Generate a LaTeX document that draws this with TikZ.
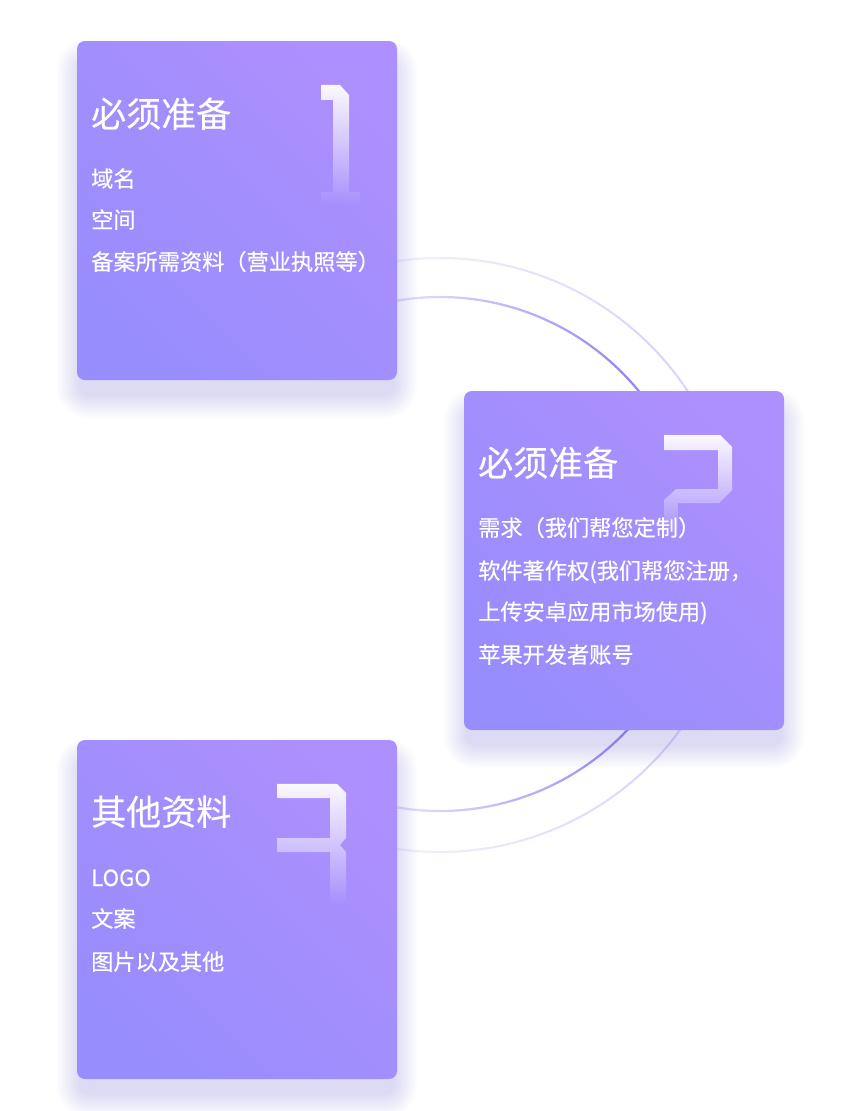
\documentclass[tikz,border=0pt]{standalone}
\usepackage{fontspec}
\setmainfont{Noto Sans CJK SC}
\newfontfamily\cardfont{Noto Sans CJK SC}[FakeBold=0.35]
\usetikzlibrary{fadings}
\tikzfading[name=digitfade, top color=transparent!5, bottom color=transparent!100]
\definecolor{cardTR}{RGB}{173,143,253}
\definecolor{cardBL}{RGB}{152,141,253}
\definecolor{shadowc}{RGB}{125,105,240}
\definecolor{arcdark}{RGB}{150,134,242}
\definecolor{arclight}{RGB}{222,218,252}
\definecolor{ocdark}{RGB}{218,213,252}
\definecolor{oclight}{RGB}{240,238,254}
\tikzset{
  card/.style={minimum width=320pt, minimum height=339pt, inner sep=0pt,
    rounded corners=8pt, top color=cardTR, bottom color=cardBL, shading angle=-45, draw=none},
  cardtitle/.style={text=white, inner sep=0pt, anchor=base west, font=\cardfont\fontsize{35}{40}\selectfont},
  carditem/.style={text=white, inner sep=0pt, anchor=base west, font=\cardfont\fontsize{22.2}{26}\selectfont},
  digit/.style={fill=white, path fading=digitfade},
}
\begin{document}
\begin{tikzpicture}[x=1pt,y=-1pt]
\useasboundingbox (0,0) rectangle (849,1111);
\fill[white] (0,0) rectangle (849,1111);
% arcs
\foreach \a in {-112,-110,...,110}{
  \pgfmathtruncatemacro\t{max(0,min(100,100*(95-abs(\a+1))/50))}
  \draw[line width=2.2pt, color=arcdark!\t!arclight, line cap=round]
    (440,554) ++(\a:257) arc[start angle=\a, end angle=\a+2, radius=257];
  \draw[line width=2pt, color=ocdark!\t!oclight, line cap=round]
    (440,555) ++(\a:297) arc[start angle=\a, end angle=\a+2, radius=297];
}
% shadows
\foreach \x/\y in {77/41, 464/391, 77/740}{
  \foreach \i in {1,...,12}{
    \fill[shadowc, opacity=0.02, rounded corners={8+2*\i}]
      ({\x+4-2*\i},{\y+22-2*\i}) rectangle ({\x+316+2*\i},{\y+339+14+2*\i});
  }
}
% cards
\node[card] (c1) at (237,210.5) {};
\node[card] (c2) at (624,560.5) {};
\node[card] (c3) at (237,909.5) {};
% digits
\fill[digit] (321,85) -- (340,85) -- (349,95) -- (349,192) -- (360,192) -- (360,205)
  -- (321,205) -- (321,192) -- (333,192) -- (333,100) -- (321,100) -- cycle;
\fill[digit] (664,435) -- (720,435) -- (732,447) -- (732,490) -- (719,503) -- (678,503)
  -- (678,535) -- (664,535) -- (664,500) -- (676,489) -- (718,489) -- (718,450) -- (664,450) -- cycle;
\fill[digit] (277,784) -- (337,784) -- (346,793) -- (346,838) -- (340,845) -- (346,852)
  -- (346,905) -- (330,905) -- (330,852) -- (277,852) -- (277,838) -- (330,838) -- (330,798)
  -- (277,798) -- cycle;
% card 1 text
\node[cardtitle] (t1) at (91,127) {必须准备};
\node[carditem] (i11) at (91,187) {域名};
\node[carditem] (i12) at (91,228) {空间};
\node[carditem] (i13) at (91,270) {备案所需资料（营业执照等）};
% card 2 text
\node[cardtitle] (t2) at (478,476) {必须准备};
\node[carditem] (i21) at (478,536) {需求（我们帮您定制）};
\node[carditem] (i22) at (478,579) {软件著作权(我们帮您注册，};
\node[carditem] (i23) at (478,620) {上传安卓应用市场使用)};
\node[carditem] (i24) at (478,663) {苹果开发者账号};
% card 3 text
\node[cardtitle] (t3) at (91,825) {其他资料};
\node[carditem] (i31) at (91,886) {LOGO};
\node[carditem] (i32) at (91,927) {文案};
\node[carditem] (i33) at (91,970) {图片以及其他};
\end{tikzpicture}
\end{document}
